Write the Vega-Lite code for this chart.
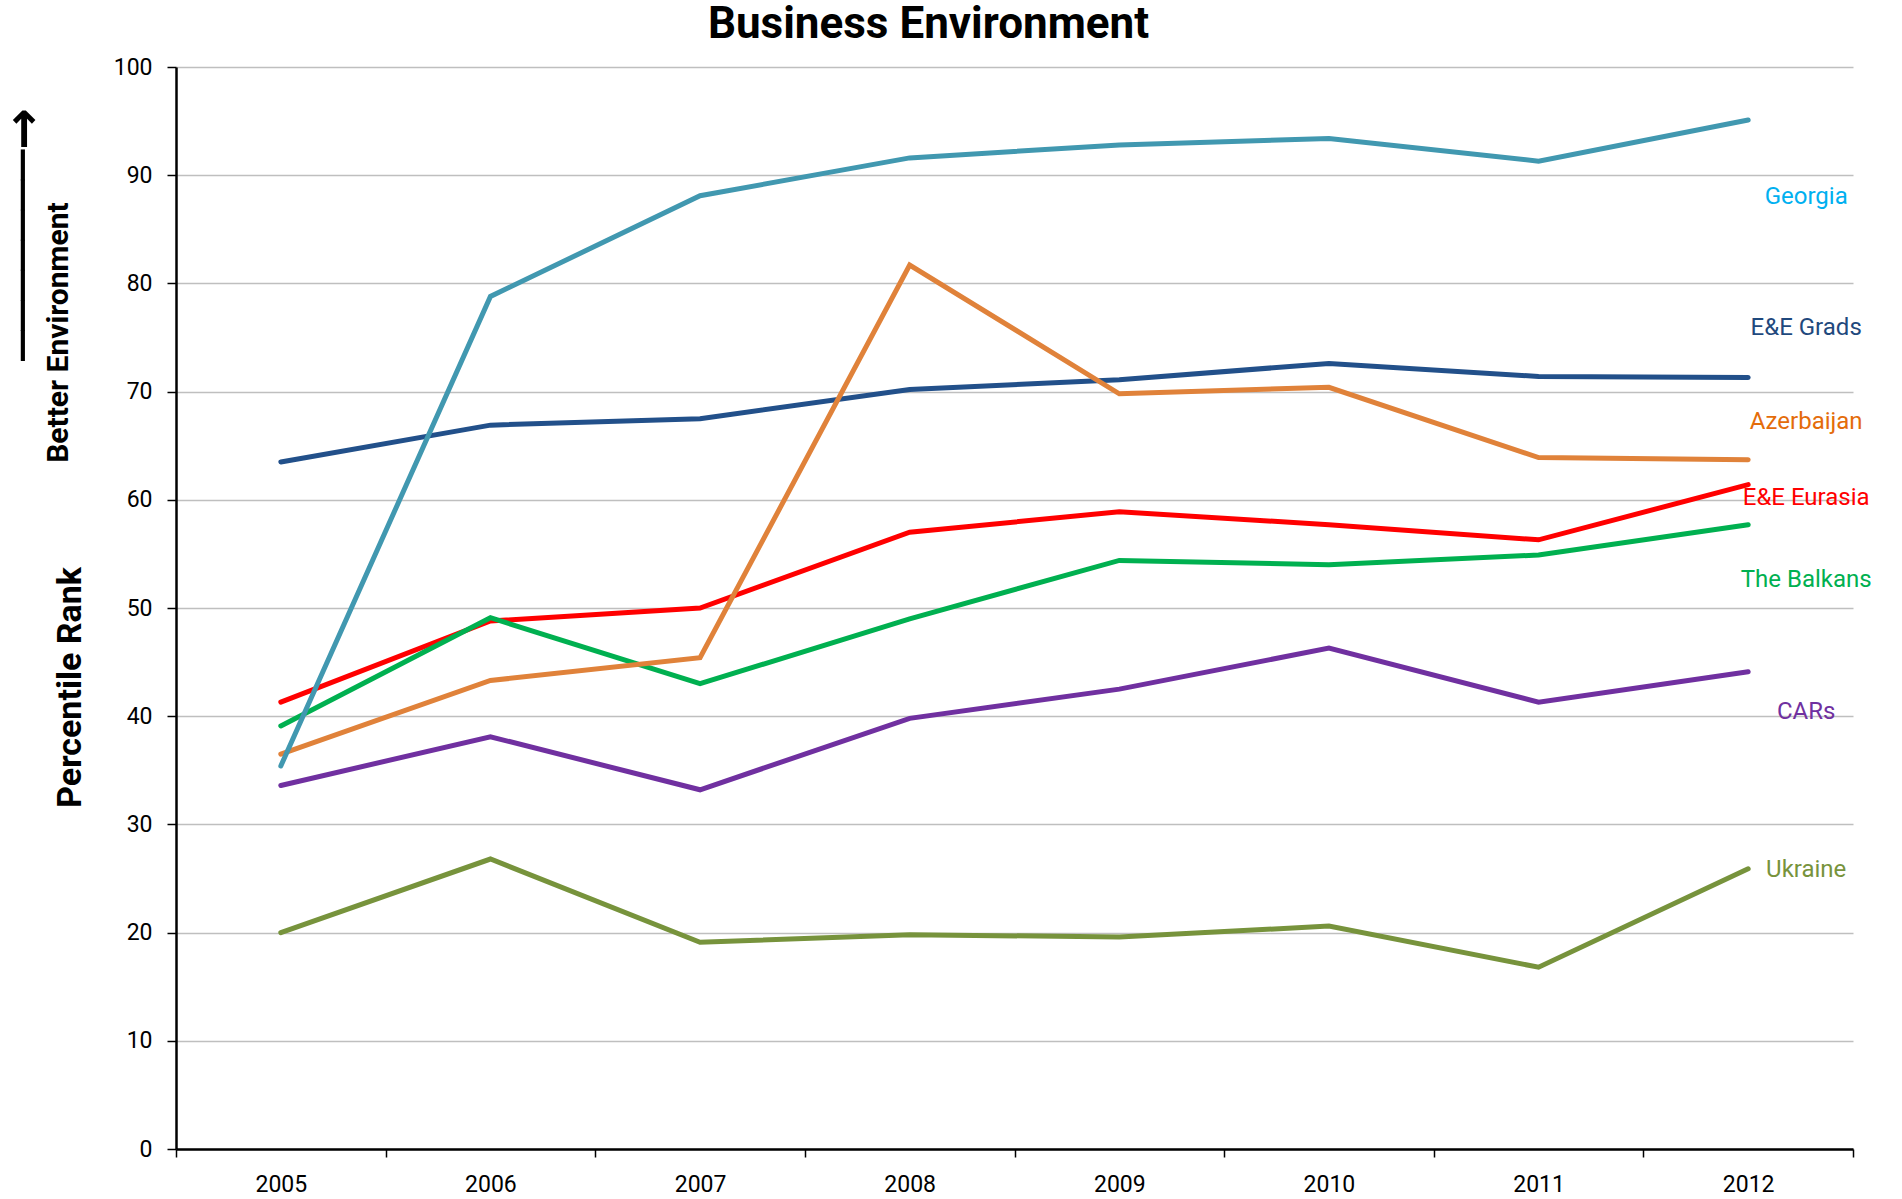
{
  "$schema": "https://vega.github.io/schema/vega-lite/v6.json",
  "width": 1677,
  "height": 1082,
  "autosize": {"type": "none"},
  "padding": {"left": 176, "top": 67, "right": 49, "bottom": 50},
  "background": "white",
  "title": {
    "text": "Business Environment",
    "font": "Roboto",
    "fontSize": 44,
    "fontWeight": "bold",
    "color": "black",
    "anchor": "middle",
    "frame": "group",
    "dx": -86,
    "baseline": "alphabetic",
    "offset": -26
  },
  "config": {
    "view": {"stroke": null},
    "axis": {"labelFont": "Roboto", "labelFontSize": 23, "labelColor": "black"}
  },
  "datasets": {
    "series": [
      {"year": "2005", "series": "E&E Grads", "value": 63.5},
      {"year": "2006", "series": "E&E Grads", "value": 66.9},
      {"year": "2007", "series": "E&E Grads", "value": 67.5},
      {"year": "2008", "series": "E&E Grads", "value": 70.2},
      {"year": "2009", "series": "E&E Grads", "value": 71.1},
      {"year": "2010", "series": "E&E Grads", "value": 72.6},
      {"year": "2011", "series": "E&E Grads", "value": 71.4},
      {"year": "2012", "series": "E&E Grads", "value": 71.3},
      {"year": "2005", "series": "E&E Eurasia", "value": 41.3},
      {"year": "2006", "series": "E&E Eurasia", "value": 48.8},
      {"year": "2007", "series": "E&E Eurasia", "value": 50.0},
      {"year": "2008", "series": "E&E Eurasia", "value": 57.0},
      {"year": "2009", "series": "E&E Eurasia", "value": 58.9},
      {"year": "2010", "series": "E&E Eurasia", "value": 57.7},
      {"year": "2011", "series": "E&E Eurasia", "value": 56.3},
      {"year": "2012", "series": "E&E Eurasia", "value": 61.4},
      {"year": "2005", "series": "The Balkans", "value": 39.1},
      {"year": "2006", "series": "The Balkans", "value": 49.1},
      {"year": "2007", "series": "The Balkans", "value": 43.0},
      {"year": "2008", "series": "The Balkans", "value": 49.0},
      {"year": "2009", "series": "The Balkans", "value": 54.4},
      {"year": "2010", "series": "The Balkans", "value": 54.0},
      {"year": "2011", "series": "The Balkans", "value": 54.9},
      {"year": "2012", "series": "The Balkans", "value": 57.7},
      {"year": "2005", "series": "CARs", "value": 33.6},
      {"year": "2006", "series": "CARs", "value": 38.1},
      {"year": "2007", "series": "CARs", "value": 33.2},
      {"year": "2008", "series": "CARs", "value": 39.8},
      {"year": "2009", "series": "CARs", "value": 42.5},
      {"year": "2010", "series": "CARs", "value": 46.3},
      {"year": "2011", "series": "CARs", "value": 41.3},
      {"year": "2012", "series": "CARs", "value": 44.1},
      {"year": "2005", "series": "Ukraine", "value": 20.0},
      {"year": "2006", "series": "Ukraine", "value": 26.8},
      {"year": "2007", "series": "Ukraine", "value": 19.1},
      {"year": "2008", "series": "Ukraine", "value": 19.8},
      {"year": "2009", "series": "Ukraine", "value": 19.6},
      {"year": "2010", "series": "Ukraine", "value": 20.6},
      {"year": "2011", "series": "Ukraine", "value": 16.8},
      {"year": "2012", "series": "Ukraine", "value": 25.9},
      {"year": "2005", "series": "Azerbaijan", "value": 36.5},
      {"year": "2006", "series": "Azerbaijan", "value": 43.3},
      {"year": "2007", "series": "Azerbaijan", "value": 45.4},
      {"year": "2008", "series": "Azerbaijan", "value": 81.7},
      {"year": "2009", "series": "Azerbaijan", "value": 69.8},
      {"year": "2010", "series": "Azerbaijan", "value": 70.4},
      {"year": "2011", "series": "Azerbaijan", "value": 63.9},
      {"year": "2012", "series": "Azerbaijan", "value": 63.7},
      {"year": "2005", "series": "Georgia", "value": 35.4},
      {"year": "2006", "series": "Georgia", "value": 78.8},
      {"year": "2007", "series": "Georgia", "value": 88.1},
      {"year": "2008", "series": "Georgia", "value": 91.6},
      {"year": "2009", "series": "Georgia", "value": 92.8},
      {"year": "2010", "series": "Georgia", "value": 93.4},
      {"year": "2011", "series": "Georgia", "value": 91.3},
      {"year": "2012", "series": "Georgia", "value": 95.1}
    ],
    "labels": [
      {"year": "2012", "series": "Georgia", "label_y": 88.0},
      {"year": "2012", "series": "E&E Grads", "label_y": 75.9},
      {"year": "2012", "series": "Azerbaijan", "label_y": 67.2},
      {"year": "2012", "series": "E&E Eurasia", "label_y": 60.2},
      {"year": "2012", "series": "The Balkans", "label_y": 52.6},
      {"year": "2012", "series": "CARs", "label_y": 40.4},
      {"year": "2012", "series": "Ukraine", "label_y": 25.8}
    ]
  },
  "encoding": {
    "x": {
      "field": "year",
      "type": "ordinal",
      "bandPosition": 0.5,
      "scale": {"type": "band", "paddingInner": 0, "paddingOuter": 0, "domain": ["2005","2006","2007","2008","2009","2010","2011","2012"]},
      "axis": {
        "title": null,
        "labelAngle": 0,
        "tickBand": "extent",
        "domainColor": "black",
        "domainWidth": 2.5,
        "tickColor": "black",
        "tickWidth": 1.5,
        "tickSize": 8,
        "labelPadding": 16,
        "grid": false
      }
    }
  },
  "layer": [
    {
      "layer": [
        {
          "data": {"name": "series"},
          "mark": {"type": "line", "strokeWidth": 5, "strokeCap": "round"},
          "encoding": {
            "y": {
              "field": "value",
              "type": "quantitative",
              "scale": {"domain": [0, 100], "nice": false},
              "axis": {
                "values": [0,10,20,30,40,50,60,70,80,90,100],
                "grid": true,
                "gridColor": "#BFBFBF",
                "gridWidth": 1.5,
                "domainColor": "black",
                "domainWidth": 2.5,
                "tickColor": "black",
                "tickWidth": 1.5,
                "tickSize": 9,
                "labelPadding": 15,
                "title": "Percentile Rank",
                "titleFont": "Roboto",
                "titleFontSize": 34,
                "titleFontWeight": "bold",
                "titleColor": "black",
                "titleAngle": 270,
                "titleAlign": "center",
                "titleBaseline": "alphabetic",
                "titleX": -96,
                "titleY": 620
              }
            },
            "color": {
              "field": "series",
              "type": "nominal",
              "legend": null,
              "scale": {
                "domain": ["E&E Grads","E&E Eurasia","The Balkans","CARs","Ukraine","Azerbaijan","Georgia"],
                "range": ["#22508A","#FF0000","#00B050","#7030A0","#77933C","#E0823A","#4198B0"]
              }
            }
          }
        },
        {
          "data": {"name": "labels"},
          "mark": {"type": "text", "font": "Roboto", "fontSize": 24, "align": "center", "baseline": "middle", "dx": 58},
          "encoding": {
            "y": {"field": "label_y", "type": "quantitative"},
            "text": {"field": "series"},
            "color": {
              "field": "series",
              "type": "nominal",
              "legend": null,
              "scale": {
                "domain": ["E&E Grads","E&E Eurasia","The Balkans","CARs","Ukraine","Azerbaijan","Georgia"],
                "range": ["#1F497D","#FF0000","#00B050","#7030A0","#77933C","#E46C0A","#00B0F0"]
              }
            }
          }
        }
      ],
      "resolve": {"scale": {"color": "independent"}}
    },
    {
      "data": {"name": "labels"},
      "mark": {"type": "point", "opacity": 0},
      "encoding": {
        "y": {
          "field": "label_y",
          "type": "quantitative",
          "scale": {"domain": [0, 100], "nice": false},
          "axis": {
            "orient": "left",
            "labels": false,
            "ticks": false,
            "domain": false,
            "grid": false,
            "title": "Better Environment",
            "titleFont": "Roboto",
            "titleFontSize": 30,
            "titleFontWeight": "bold",
            "titleColor": "black",
            "titleAngle": 270,
            "titleAlign": "center",
            "titleBaseline": "alphabetic",
            "titleX": -109,
            "titleY": 265
          }
        }
      }
    },
    {
      "data": {"name": "labels"},
      "mark": {"type": "point", "opacity": 0},
      "encoding": {
        "y": {
          "field": "label_y",
          "type": "quantitative",
          "scale": {"domain": [0, 100], "nice": false},
          "axis": {
            "orient": "left",
            "labels": false,
            "ticks": false,
            "domain": false,
            "grid": false,
            "title": "───────→",
            "titleFont": "DejaVu Sans",
            "titleFontSize": 50,
            "titleFontWeight": "bold",
            "titleColor": "black",
            "titleAngle": 270,
            "titleAlign": "center",
            "titleBaseline": "alphabetic",
            "titleX": -137,
            "titleY": 167
          }
        }
      }
    }
  ],
  "resolve": {"scale": {"y": "independent"}, "axis": {"y": "independent"}}
}
